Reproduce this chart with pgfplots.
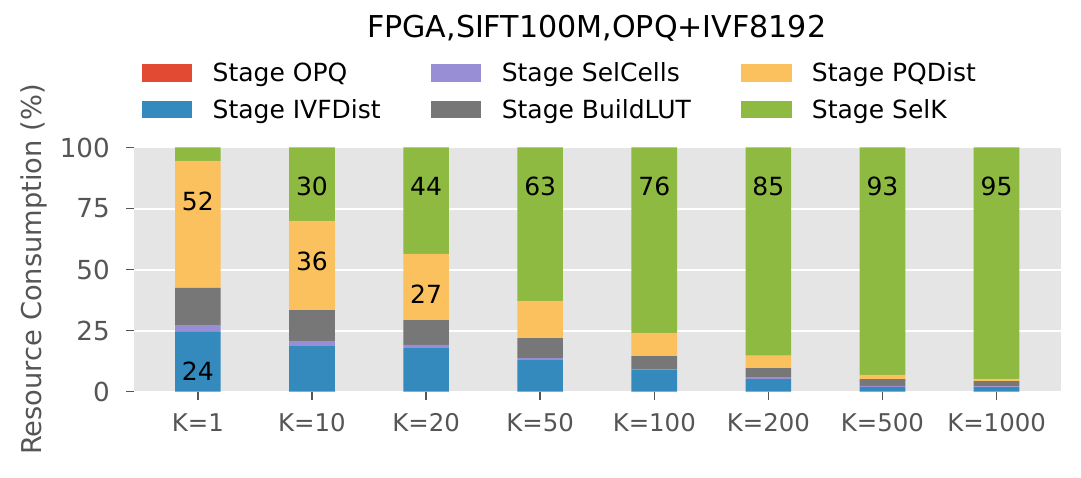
\documentclass[border=0pt]{standalone}
\usepackage{fontspec}
\setmainfont{DejaVu Sans}
\usepackage{pgfplots}
\pgfplotsset{compat=1.18}
\definecolor{cOPQ}{HTML}{E24A33}
\definecolor{cIVF}{HTML}{348ABD}
\definecolor{cSel}{HTML}{988ED5}
\definecolor{cLUT}{HTML}{777777}
\definecolor{cPQ}{HTML}{FBC15E}
\definecolor{cK}{HTML}{8EBA42}
\definecolor{bgc}{HTML}{E5E5E5}
\definecolor{tickc}{HTML}{555555}
\tikzset{barlab/.style={font=\fontsize{25}{30}\selectfont, anchor=base, inner sep=0pt}}
\begin{document}
\begin{tikzpicture}
\begin{axis}[
  at={(134pt,85.5pt)}, anchor=south west,
  scale only axis, width=927pt, height=244pt,
  xmin=-0.56, xmax=7.565, ymin=0, ymax=100,
  ybar stacked, bar width=0.4,
  axis background/.style={fill=bgc},
  axis line style={draw=none},
  ymajorgrids, major grid style={white, line width=2pt},
  tick align=outside, major tick length=8pt,
  tick style={color=tickc, line width=1.5pt},
  xtick pos=bottom, ytick pos=left,
  xtick={0,1,2,3,4,5,6,7},
  xticklabels={K=1,K=10,K=20,K=50,K=100,K=200,K=500,K=1000},
  ytick={0,25,50,75,100},
  /pgf/number format/assume math mode=true,
  xticklabel style={font=\fontsize{24.4}{29}\selectfont, text=tickc, anchor=base, inner sep=0pt, yshift=-32.2pt},
  yticklabel style={font=\fontsize{26.2}{31}\selectfont, text=tickc, anchor=east, inner sep=0pt, xshift=-16pt},
  ylabel={Resource Consumption (\%)},
  ylabel style={font=\fontsize{27.3}{32}\selectfont, text=tickc, at={(axis description cs:-0.1003,0.5)}, anchor=base, inner sep=0pt},
  title={FPGA,SIFT100M,OPQ+IVF8192},
  title style={font=\fontsize{30.1}{36}\selectfont, at={(axis description cs:0.4991,1.427)}, anchor=base, inner sep=0pt, yshift=0pt},
  legend columns=2, transpose legend,
  legend style={at={(axis description cs:0.0083,1.3434)}, anchor=north west,
    draw=none, fill=none, inner sep=0pt, outer sep=0pt,
    font=\fontsize{25}{30}\selectfont,
    nodes={inner sep=0pt, text height=18pt, text depth=6pt, anchor=base west},
    row sep=12.3pt,
    /tikz/every odd column/.append style={column sep=20.4pt},
    /tikz/every even column/.append style={column sep=50pt}},
  legend image code/.code={\fill[#1] (0pt,0pt) rectangle (50.6pt,17.4pt);},
]
\addplot[fill=cOPQ, draw=none] coordinates {(0,0) (1,0) (2,0) (3,0) (4,0) (5,0) (6,0) (7,0)};
\addlegendentry{Stage OPQ}
\addplot[fill=cIVF, draw=none] coordinates {(0,24.4) (1,18.6) (2,17.8) (3,12.9) (4,8.8) (5,5.1) (6,1.8) (7,1.8)};
\addlegendentry{Stage IVFDist}
\addplot[fill=cSel, draw=none] coordinates {(0,2.8) (1,2.1) (2,1.3) (3,0.8) (4,0.4) (5,0.8) (6,0.5) (7,0.3)};
\addlegendentry{Stage SelCells}
\addplot[fill=cLUT, draw=none] coordinates {(0,15.3) (1,12.7) (2,10.2) (3,8.2) (4,5.3) (5,3.7) (6,2.8) (7,2.2)};
\addlegendentry{Stage BuildLUT}
\addplot[fill=cPQ, draw=none] coordinates {(0,52.0) (1,36.5) (2,27.1) (3,15.2) (4,9.5) (5,5.1) (6,1.7) (7,0.9)};
\addlegendentry{Stage PQDist}
\addplot[fill=cK, draw=none] coordinates {(0,5.5) (1,30.1) (2,43.6) (3,62.9) (4,76.0) (5,85.3) (6,93.2) (7,94.8)};
\addlegendentry{Stage SelK}
\coordinate (l1) at (axis cs:0,4.4);
\coordinate (l2) at (axis cs:0,74.1);
\coordinate (l3) at (axis cs:1,49.4);
\coordinate (l4) at (axis cs:1,80.5);
\coordinate (l5) at (axis cs:2,35.9);
\coordinate (l6) at (axis cs:2,80.5);
\coordinate (l7) at (axis cs:3,80.5);
\coordinate (l8) at (axis cs:4,80.5);
\coordinate (l9) at (axis cs:5,80.5);
\coordinate (l10) at (axis cs:6,80.5);
\coordinate (l11) at (axis cs:7,80.5);
\end{axis}
\node[barlab] at (l1) {24};
\node[barlab] at (l2) {52};
\node[barlab] at (l3) {36};
\node[barlab] at (l4) {30};
\node[barlab] at (l5) {27};
\node[barlab] at (l6) {44};
\node[barlab] at (l7) {63};
\node[barlab] at (l8) {76};
\node[barlab] at (l9) {85};
\node[barlab] at (l10) {93};
\node[barlab] at (l11) {95};
\pgfresetboundingbox
\path (0pt,0pt) rectangle (1081pt,477pt);
\end{tikzpicture}
\end{document}
